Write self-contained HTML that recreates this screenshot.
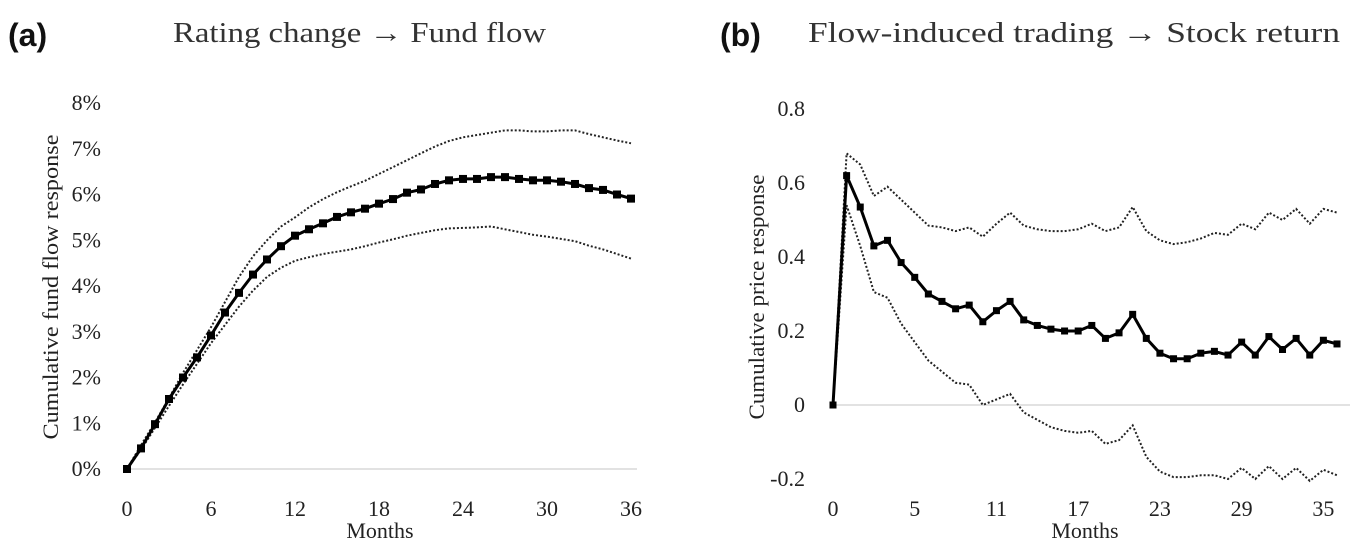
<!DOCTYPE html>
<html><head><meta charset="utf-8">
<style>
html,body{margin:0;padding:0;background:#fff;}
svg{display:block;}
text{font-family:"Liberation Serif",serif;fill:#222;}
</style></head>
<body>
<svg id="fig" width="1353" height="546" viewBox="0 0 1353 546">
  <text x="8" y="46" style="font-family:'Liberation Sans',sans-serif;font-size:32px;font-weight:bold;fill:#111">(a)</text>
  <text x="173" y="42" textLength="373" lengthAdjust="spacingAndGlyphs" style="font-size:28px;fill:#333">Rating change → Fund flow</text>
  <text x="720" y="46" style="font-family:'Liberation Sans',sans-serif;font-size:32px;font-weight:bold;fill:#111">(b)</text>
  <text x="808" y="42" textLength="532" lengthAdjust="spacingAndGlyphs" style="font-size:28px;fill:#333">Flow-induced trading → Stock return</text>
  <g id="chartA"></g>
  <g id="chartB"></g>
</svg>
<script>
// ---- Chart A data ----
const aMonths = Array.from({length:37},(_,i)=>i);
const aMain = [0,0.45,0.98,1.53,2.0,2.44,2.92,3.42,3.85,4.25,4.58,4.87,5.1,5.24,5.37,5.51,5.61,5.69,5.8,5.9,6.04,6.11,6.23,6.31,6.34,6.34,6.38,6.38,6.34,6.31,6.31,6.28,6.23,6.14,6.1,6.0,5.91];
const aUpper = [0,0.52,1.02,1.55,2.1,2.6,3.1,3.65,4.2,4.65,5.0,5.3,5.5,5.72,5.9,6.05,6.18,6.3,6.45,6.6,6.75,6.9,7.05,7.17,7.25,7.3,7.35,7.4,7.4,7.38,7.38,7.4,7.4,7.32,7.25,7.18,7.12];
const aLower = [0,0.42,0.9,1.38,1.85,2.3,2.75,3.15,3.55,3.9,4.2,4.4,4.55,4.63,4.7,4.75,4.8,4.87,4.95,5.02,5.1,5.16,5.22,5.26,5.27,5.28,5.3,5.24,5.18,5.12,5.08,5.03,4.98,4.88,4.8,4.7,4.6];
const aYTicks = [0,1,2,3,4,5,6,7,8];
const aYTickLabels = ["0%","1%","2%","3%","4%","5%","6%","7%","8%"];
const aXTicks = [0,6,12,18,24,30,36];
const aXTickLabels = ["0","6","12","18","24","30","36"];
// ---- Chart B data ----
const bIdx = Array.from({length:38},(_,i)=>i);
const bMain = [0,0.62,0.535,0.43,0.445,0.385,0.345,0.30,0.28,0.26,0.27,0.225,0.255,0.28,0.23,0.215,0.205,0.20,0.20,0.215,0.18,0.195,0.245,0.18,0.14,0.125,0.125,0.14,0.145,0.135,0.17,0.135,0.185,0.15,0.18,0.135,0.175,0.165];
const bUpper = [0,0.68,0.65,0.565,0.59,0.555,0.52,0.485,0.48,0.47,0.48,0.455,0.49,0.52,0.485,0.475,0.47,0.47,0.475,0.49,0.47,0.48,0.535,0.47,0.445,0.435,0.44,0.45,0.465,0.46,0.49,0.475,0.52,0.5,0.53,0.49,0.53,0.52];
const bLower = [0,0.54,0.43,0.305,0.29,0.22,0.17,0.12,0.09,0.06,0.055,0,0.015,0.03,-0.02,-0.04,-0.06,-0.07,-0.075,-0.07,-0.105,-0.095,-0.055,-0.14,-0.18,-0.195,-0.195,-0.19,-0.19,-0.2,-0.17,-0.2,-0.165,-0.2,-0.17,-0.205,-0.175,-0.19];
const bYTicks = [-0.2,0,0.2,0.4,0.6,0.8];
const bYTickLabels = ["-0.2","0","0.2","0.4","0.6","0.8"];
const bXTicks = [0,6,12,18,24,30,36];
const bXTickLabels = ["0","5","11","17","23","29","35"];

const NS="http://www.w3.org/2000/svg";
function mk(parent,tag,attrs){const e=document.createElementNS(NS,tag);for(const k in attrs)e.setAttribute(k,attrs[k]);parent.appendChild(e);return e;}

const axA = v => 127 + v*(631-127)/36;
const ayA = v => 469 - v*45.75;
const axB = i => 833 + i*(1337-833)/37;
const ayB = v => 405 - v*370;

function drawChart(g, xs, ax, ay, main, upper, lower, yt, ytl, xt, xtl, cfg){
  const base = mk(g,'line',{x1:cfg.gx1,x2:cfg.gx2,y1:ay(0),y2:ay(0),stroke:'#d9d9d9','stroke-width':1.5});
  
  
  yt.forEach((v,i)=>{
    const t=mk(g,'text',{x:cfg.ylx,y:ay(v)+7,'text-anchor':'end','font-size':22});
    t.textContent=ytl[i];
    
    
  });
  xt.forEach((v,i)=>{
    const t=mk(g,'text',{x:ax(v),y:cfg.xly,'text-anchor':'middle','font-size':22});
    t.textContent=xtl[i];
    
    
  });
  const xtitle=mk(g,'text',{x:cfg.xtx,y:538,'text-anchor':'middle','font-size':22});
  xtitle.textContent='Months';
  
  
  const ytitle=mk(g,'text',{x:0,y:0,'text-anchor':'middle','font-size':22,textLength:cfg.ytl,lengthAdjust:'spacingAndGlyphs',transform:`translate(${cfg.ytx},${cfg.yty}) rotate(-90)`});
  ytitle.textContent=cfg.ytitle;
  
  
  const pts = arr => arr.map((v,i)=>ax(xs[i]).toFixed(1)+','+ay(v).toFixed(1)).join(' ');
  const up=mk(g,'polyline',{points:pts(upper),fill:'none',stroke:'#222','stroke-width':2,'stroke-dasharray':'2 2'});
  
  
  const lo=mk(g,'polyline',{points:pts(lower),fill:'none',stroke:'#222','stroke-width':2,'stroke-dasharray':'2 2'});
  
  
  const ml=mk(g,'polyline',{points:pts(main),fill:'none',stroke:'#000','stroke-width':3,'stroke-linejoin':'round'});
  
  
  main.forEach((v,i)=>{
    const s=cfg.ms;
    const r=mk(g,'rect',{x:ax(xs[i])-s/2,y:ay(v)-s/2,width:s,height:s,fill:'#000'});
    
    
  });
}
drawChart(document.getElementById('chartA'), aMonths, axA, ayA, aMain, aUpper, aLower, aYTicks, aYTickLabels, aXTicks, aXTickLabels,
  {gx1:127,gx2:637,ylx:101,xly:516,xtx:380,ytx:58,yty:287,ytl:305,ytitle:'Cumulative fund flow response',ms:8});
drawChart(document.getElementById('chartB'), bIdx, axB, ayB, bMain, bUpper, bLower, bYTicks, bYTickLabels, bXTicks, bXTickLabels,
  {gx1:833,gx2:1350,ylx:805,xly:516,xtx:1085,ytx:764,yty:297,ytl:245,ytitle:'Cumulative price response',ms:7});
</script>
</body></html>
